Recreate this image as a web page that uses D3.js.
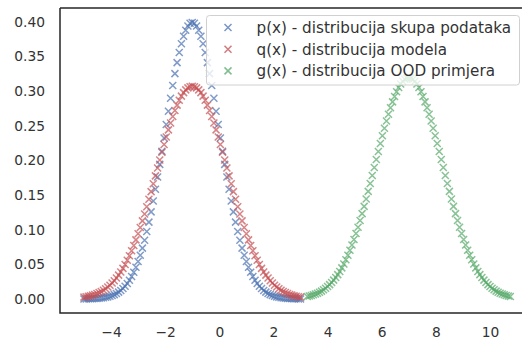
<!DOCTYPE html>
<html><head><meta charset="utf-8">
<script src="https://cdn.jsdelivr.net/npm/d3@7"></script>
<style>body{margin:0;background:#fff}svg{display:block}text{font-family:"DejaVu Sans",sans-serif;fill:#333}</style>
</head><body><svg id="c" width="522" height="341"></svg>
<script>
// x grid shared by p(x) and q(x)
const xPQ = [-5.00,-4.92,-4.84,-4.76,-4.68,-4.60,-4.52,-4.44,-4.36,-4.28,
-4.20,-4.12,-4.04,-3.96,-3.88,-3.80,-3.72,-3.64,-3.56,-3.48,
-3.40,-3.32,-3.24,-3.16,-3.08,-3.00,-2.92,-2.84,-2.76,-2.68,
-2.60,-2.52,-2.44,-2.36,-2.28,-2.20,-2.12,-2.04,-1.96,-1.88,
-1.80,-1.72,-1.64,-1.56,-1.48,-1.40,-1.32,-1.24,-1.16,-1.08,
-1.00,
-0.92,-0.84,-0.76,-0.68,-0.60,-0.52,-0.44,-0.36,-0.28,-0.20,
-0.12,-0.04,0.04,0.12,0.20,0.28,0.36,0.44,0.52,0.60,
0.68,0.76,0.84,0.92,1.00,1.08,1.16,1.24,1.32,1.40,
1.48,1.56,1.64,1.72,1.80,1.88,1.96,2.04,2.12,2.20,
2.28,2.36,2.44,2.52,2.60,2.68,2.76,2.84,2.92,3.00];

const pVals = [0.0001,0.0002,0.0003,0.0003,0.0005,0.0006,0.0008,0.0011,0.0014,0.0018,
0.0024,0.0031,0.0039,0.0050,0.0063,0.0079,0.0099,0.0122,0.0151,0.0184,
0.0224,0.0270,0.0325,0.0387,0.0459,0.0540,0.0632,0.0734,0.0848,0.0973,
0.1109,0.1257,0.1415,0.1582,0.1759,0.1942,0.2131,0.2323,0.2516,0.2709,
0.2897,0.3079,0.3251,0.3410,0.3555,0.3683,0.3790,0.3876,0.3939,0.3977,
0.3989,
0.3977,0.3939,0.3876,0.3790,0.3683,0.3555,0.3410,0.3251,0.3079,0.2897,
0.2709,0.2516,0.2323,0.2131,0.1942,0.1759,0.1582,0.1415,0.1257,0.1109,
0.0973,0.0848,0.0734,0.0632,0.0540,0.0459,0.0387,0.0325,0.0270,0.0224,
0.0184,0.0151,0.0122,0.0099,0.0079,0.0063,0.0050,0.0039,0.0031,0.0024,
0.0018,0.0014,0.0011,0.0008,0.0006,0.0005,0.0003,0.0003,0.0002,0.0001];

const qVals = [0.0027,0.0033,0.0039,0.0047,0.0056,0.0066,0.0079,0.0093,0.0109,0.0127,
0.0148,0.0172,0.0199,0.0230,0.0264,0.0302,0.0344,0.0390,0.0442,0.0497,
0.0558,0.0624,0.0695,0.0772,0.0853,0.0940,0.1031,0.1127,0.1227,0.1331,
0.1439,0.1549,0.1662,0.1776,0.1890,0.2004,0.2117,0.2228,0.2336,0.2440,
0.2539,0.2632,0.2719,0.2797,0.2867,0.2927,0.2977,0.3017,0.3046,0.3063,
0.3069,
0.3063,0.3046,0.3017,0.2977,0.2927,0.2867,0.2797,0.2719,0.2632,0.2539,
0.2440,0.2336,0.2228,0.2117,0.2004,0.1890,0.1776,0.1662,0.1549,0.1439,
0.1331,0.1227,0.1127,0.1031,0.0940,0.0853,0.0772,0.0695,0.0624,0.0558,
0.0497,0.0442,0.0390,0.0344,0.0302,0.0264,0.0230,0.0199,0.0172,0.0148,
0.0127,0.0109,0.0093,0.0079,0.0066,0.0056,0.0047,0.0039,0.0033,0.0027];

const xG = [3.250,3.325,3.400,3.475,3.550,3.625,3.700,3.775,3.850,3.925,
4.000,4.075,4.150,4.225,4.300,4.375,4.450,4.525,4.600,4.675,
4.750,4.825,4.900,4.975,5.050,5.125,5.200,5.275,5.350,5.425,
5.500,5.575,5.650,5.725,5.800,5.875,5.950,6.025,6.100,6.175,
6.250,6.325,6.400,6.475,6.550,6.625,6.700,6.775,6.850,6.925,
7.000,
7.075,7.150,7.225,7.300,7.375,7.450,7.525,7.600,7.675,7.750,
7.825,7.900,7.975,8.050,8.125,8.200,8.275,8.350,8.425,8.500,
8.575,8.650,8.725,8.800,8.875,8.950,9.025,9.100,9.175,9.250,
9.325,9.400,9.475,9.550,9.625,9.700,9.775,9.850,9.925,10.000,
10.075,10.150,10.225,10.300,10.375,10.450,10.525,10.600,10.675,10.750];

const gVals = [0.0035,0.0042,0.0050,0.0060,0.0071,0.0083,0.0098,0.0114,0.0133,0.0155,
0.0179,0.0207,0.0237,0.0272,0.0310,0.0352,0.0398,0.0449,0.0505,0.0566,
0.0632,0.0702,0.0778,0.0859,0.0945,0.1036,0.1132,0.1232,0.1336,0.1443,
0.1553,0.1666,0.1781,0.1897,0.2013,0.2129,0.2243,0.2354,0.2463,0.2567,
0.2666,0.2759,0.2844,0.2922,0.2991,0.3051,0.3101,0.3140,0.3169,0.3186,
0.3192,
0.3186,0.3169,0.3140,0.3101,0.3051,0.2991,0.2922,0.2844,0.2759,0.2666,
0.2567,0.2463,0.2354,0.2243,0.2129,0.2013,0.1897,0.1781,0.1666,0.1553,
0.1443,0.1336,0.1232,0.1132,0.1036,0.0945,0.0859,0.0778,0.0702,0.0632,
0.0566,0.0505,0.0449,0.0398,0.0352,0.0310,0.0272,0.0237,0.0207,0.0179,
0.0155,0.0133,0.0114,0.0098,0.0083,0.0071,0.0060,0.0050,0.0042,0.0035];

const seriesNames = ["p(x) - distribucija skupa podataka","q(x) - distribucija modela","g(x) - distribucija OOD primjera"];
const seriesColors = ["#4C72B0","#C44E52","#55A868"];
const xTicks = [-4,-2,0,2,4,6,8,10];
const yTicks = [0,0.05,0.10,0.15,0.20,0.25,0.30,0.35,0.40];

const series = [
  {name: seriesNames[0], color: seriesColors[0], xs: xPQ, ys: pVals},
  {name: seriesNames[1], color: seriesColors[1], xs: xPQ, ys: qVals},
  {name: seriesNames[2], color: seriesColors[2], xs: xG, ys: gVals}
];

const L = 60, T = 8, B = 313, R = 531.7;
const x = d3.scaleLinear().domain([-5.885, 11.54]).range([L, R]);
const y = d3.scaleLinear().domain([-0.0202, 0.4198]).range([B, T]);
const svg = d3.select("#c");

const fmtX = d => (d < 0 ? "\u2212" + Math.abs(d) : "" + d);
const xAxis = d3.axisBottom(x).tickValues(xTicks).tickSize(0).tickPadding(14).tickFormat(fmtX);
const yAxis = d3.axisLeft(y).tickValues(yTicks).tickSize(0).tickPadding(15).tickFormat(d3.format(".2f"));

const gx = svg.append("g").attr("transform", `translate(0,${B})`).call(xAxis);
gx.select(".domain").remove();
gx.selectAll("text").attr("font-size", "13.8px").attr("fill", "#333").attr("font-family", "DejaVu Sans");
const gy = svg.append("g").attr("transform", `translate(${L},0)`).call(yAxis);
gy.select(".domain").remove();
gy.selectAll("text").attr("font-size", "13.8px").attr("fill", "#333").attr("font-family", "DejaVu Sans");

const hs = 3.5;
const xPath = (cx, cy) => `M${cx-hs},${cy-hs}L${cx+hs},${cy+hs}M${cx-hs},${cy+hs}L${cx+hs},${cy-hs}`;

const plot = svg.append("g");
series.forEach(s => {
  plot.append("g").selectAll("path").data(s.xs.map((xv, i) => [xv, s.ys[i]])).join("path")
    .attr("d", d => xPath(x(d[0]), y(d[1])))
    .attr("stroke", s.color).attr("stroke-width", 1.5).attr("fill", "none")
    .attr("stroke-opacity", 0.7);
});

// spines
svg.append("path").attr("d", `M${L},${T}L${L},${B}L${R},${B}`).attr("stroke", "#262626").attr("stroke-width", 1.5).attr("fill", "none");
svg.append("path").attr("d", `M${L},${T}L${R},${T}`).attr("stroke", "#262626").attr("stroke-width", 1.5).attr("fill", "none");
svg.append("path").attr("d", `M${R},${T}L${R},${B}`).attr("stroke", "#262626").attr("stroke-width", 1.5).attr("fill", "none");

// legend
const lg = svg.append("g");
lg.append("rect").attr("x", 206.5).attr("y", 15.5).attr("width", 313).attr("height", 69.5)
  .attr("rx", 3).attr("fill", "#fff").attr("fill-opacity", 0.8).attr("stroke", "#d0d0d0").attr("stroke-width", 1);
series.forEach((s, i) => {
  const cy = 27.5 + i * 21.7;
  lg.append("path").attr("d", xPath(228, cy)).attr("stroke", s.color).attr("stroke-width", 1.5)
    .attr("stroke-opacity", 0.75).attr("fill", "none");
  lg.append("text").attr("x", 256.5).attr("y", cy).attr("dy", "0.35em")
    .attr("font-size", "15.2px").text(s.name);
});
</script></body></html>
